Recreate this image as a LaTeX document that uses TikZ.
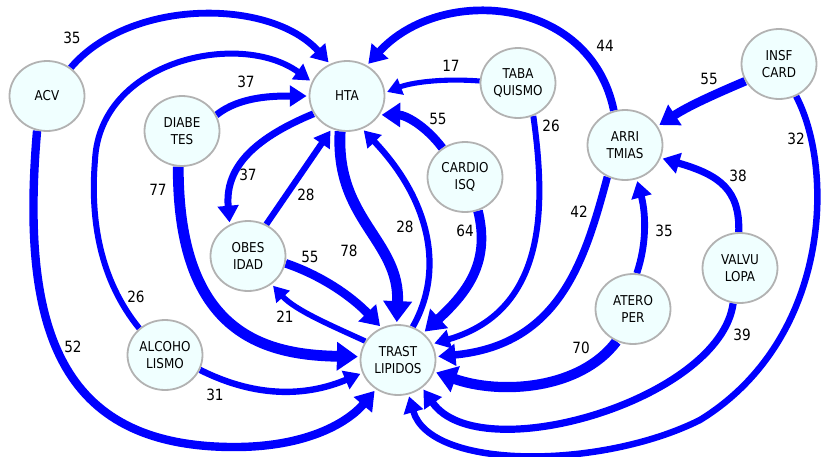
\documentclass[tikz,border=0pt]{standalone}
\usepackage{fontspec}
\setmainfont[FakeStretch=0.88]{DejaVu Sans}
\usetikzlibrary{arrows.meta,shapes.geometric}
\definecolor{edgeblue}{RGB}{0,0,255}
\definecolor{nodefill}{RGB}{240,255,255}
\definecolor{nodeline}{RGB}{178,178,178}
\pgfdeclarelayer{edges}
\pgfsetlayers{edges,main}

\begin{document}
\begin{tikzpicture}[x=1pt,y=-1pt,
  state/.style={ellipse, draw=nodeline, line width=1.8pt, fill=nodefill,
    minimum width=75pt, minimum height=70pt, inner sep=0pt, align=center,
    font=\fontsize{13.6}{16.8}\selectfont},
  link/.style={draw=edgeblue, line width=#1,
    -{Triangle[length=9pt 1.1, width=7pt 1.9]}, shorten >=2pt},
  wt/.style={font=\fontsize{15.5}{18}\selectfont, inner sep=0pt}]

\useasboundingbox (0,0) rectangle (823,456);

% factors
\node[state] (acv)  at (47,96)   {ACV};
\node[state] (hta)  at (347,96)  {HTA};
\node[state] (diab) at (182,131) {DIABE\\TES};
\node[state] (taba) at (518,83)  {TABA\\QUISMO};
\node[state] (card) at (465,177) {CARDIO\\ISQ};
\node[state] (arri) at (625,145) {ARRI\\TMIAS};
\node[state] (insf) at (779,64)  {INSF\\CARD};
\node[state] (obes) at (248,256) {OBES\\IDAD};
\node[state] (alco) at (165,355) {ALCOHO\\LISMO};
\node[state] (tras) at (398,360) {TRAST\\LIPIDOS};
\node[state] (ater) at (633,309) {ATERO\\PER};
\node[state] (valv) at (740,268) {VALVU\\LOPA};

% weighted links, drawn beneath the nodes
\begin{pgfonlayer}{edges}
\draw[link=6.8pt] (acv.50) .. controls (130,-2) and (270,-2) .. (hta.118);
\draw[link=8.4pt] (acv.254) .. controls (20,330) and (60,445) .. (230,447)
                   .. controls (310,448) and (350,420) .. (tras.233);
\draw[link=6pt] (alco.134) .. controls (100,280) and (90,220) .. (95,160)
                   .. controls (100,60) and (240,30) .. (hta.158);
\draw[link=7pt] (diab.25) .. controls (240,96) and (275,96) .. (hta.180);
\draw[link=10.8pt] (diab.264) .. controls (178,330) and (260,355) .. (tras.175);
\draw[link=7pt] (hta.208) .. controls (250,140) and (225,170) .. (obes.120);
\draw[link=6.2pt] (obes.60) -- (hta.245);
\draw[link=10.9pt] (hta.259) .. controls (335,220) and (400,240) .. (tras.92);
\draw[link=6.2pt] (tras.66) .. controls (445,270) and (430,200) .. (hta.295);
\draw[link=8.7pt] (card.128) .. controls (425,125) and (405,115) .. (hta.330);
\draw[link=5.1pt] (taba.177) .. controls (440,78) and (410,83) .. (hta.5);
\draw[link=9.6pt] (card.291) .. controls (490,260) and (470,290) .. (tras.47);
\draw[link=6pt] (taba.295) .. controls (545,200) and (550,310) .. (tras.25);
\draw[link=7.7pt] (arri.108) .. controls (590,-5) and (440,-15) .. (hta.57);
\draw[link=7.5pt] (arri.241) .. controls (585,260) and (560,345) .. (tras.5);
\draw[link=8.7pt] (insf.207) .. controls (720,92) and (690,105) .. (arri.30);
\draw[link=6.5pt] (insf.298) .. controls (835,170) and (830,340) .. (700,420)
                   .. controls (600,470) and (430,470) .. (tras.287);
\draw[link=7.1pt] (valv.92) .. controls (740,190) and (720,175) .. (arri.340);
\draw[link=6.8pt] (ater.84) .. controls (648,240) and (645,210) .. (arri.289);
\draw[link=10.2pt] (ater.243) .. controls (580,390) and (500,395) .. (tras.342);
\draw[link=7.2pt] (valv.259) .. controls (720,400) and (480,470) .. (tras.311);
\draw[link=8.7pt] (obes.349) .. controls (320,275) and (350,295) .. (tras.117);
\draw[link=5.5pt] (tras.150) .. controls (330,325) and (295,310) .. (obes.310);
\draw[link=6.4pt] (alco.337) .. controls (260,400) and (310,395) .. (tras.200);
\end{pgfonlayer}

% link weights
\node[wt] (w1)  at (72,38)   {35};
\node[wt] (w2)  at (73,347)  {52};
\node[wt] (w3)  at (136,297) {26};
\node[wt] (w4)  at (246,82)  {37};
\node[wt] (w5)  at (158,190) {77};
\node[wt] (w6)  at (248,175) {37};
\node[wt] (w7)  at (306,195) {28};
\node[wt] (w8)  at (349,251) {78};
\node[wt] (w9)  at (405,227) {28};
\node[wt] (w10) at (438,119) {55};
\node[wt] (w11) at (451,66)  {17};
\node[wt] (w12) at (465,231) {64};
\node[wt] (w13) at (551,126) {26};
\node[wt] (w14) at (605,46)  {44};
\node[wt] (w15) at (579,212) {42};
\node[wt] (w16) at (709,79)  {55};
\node[wt] (w17) at (796,139) {32};
\node[wt] (w18) at (738,176) {38};
\node[wt] (w19) at (664,231) {35};
\node[wt] (w20) at (581,348) {70};
\node[wt] (w21) at (742,335) {39};
\node[wt] (w22) at (310,257) {55};
\node[wt] (w23) at (285,317) {21};
\node[wt] (w24) at (215,395) {31};
\end{tikzpicture}
\end{document}
